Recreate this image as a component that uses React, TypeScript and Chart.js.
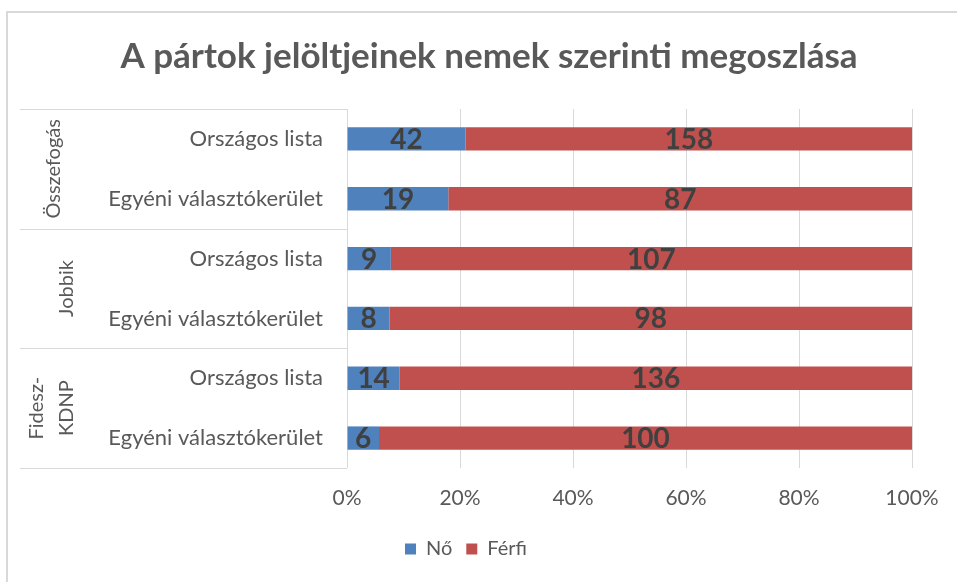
import React, { useEffect, useRef } from "react";
import { Chart, registerables } from "chart.js";

Chart.register(...registerables);

const titleText = "A pártok jelöltjeinek nemek szerinti megoszlása";
const groupLabels = [["Összefogás"], ["Jobbik"], ["Fidesz-", "KDNP"]];
const groupSizes = [2, 2, 2];
const categories = [
  "Országos lista",
  "Egyéni választókerület",
  "Országos lista",
  "Egyéni választókerület",
  "Országos lista",
  "Egyéni választókerület",
];
const seriesNames = ["Nő", "Férfi"];
const noValues = [42, 19, 9, 8, 14, 6];
const ferfiValues = [158, 87, 107, 98, 136, 100];
const xTickValues = [0, 20, 40, 60, 80, 100];

const FONT = "Lato";
const GRAY = "#595959";
const LINE = "#d9d9d9";

export default function App() {
  const ref = useRef<HTMLCanvasElement | null>(null);

  useEffect(() => {
    if (!ref.current) return;
    const totals = noValues.map((v, i) => v + ferfiValues[i]);
    const noPct = noValues.map((v, i) => (v / totals[i]) * 100);
    const ferfiPct = ferfiValues.map((v, i) => (v / totals[i]) * 100);
    const rawValues = [noValues, ferfiValues];

    const framePlugin = {
      id: "frame",
      beforeDraw(chart: any) {
        const ctx = chart.ctx;
        ctx.save();
        ctx.fillStyle = "#ffffff";
        ctx.fillRect(0, 0, chart.width, chart.height);
        ctx.strokeStyle = LINE;
        ctx.lineWidth = 2;
        ctx.strokeRect(7, 12, chart.width + 20, chart.height + 20);
        ctx.restore();
      },
    };

    const legendShift = {
      id: "legendShift",
      afterLayout(chart: any) {
        if (chart.legend) {
          chart.legend.left -= 23;
          chart.legend.right -= 23;
        }
      },
    };

    const groupPlugin = {
      id: "groups",
      afterDraw(chart: any) {
        const ctx = chart.ctx;
        const y = chart.scales.y;
        const area = chart.chartArea;
        const n = categories.length;
        const step = (y.getPixelForValue(n - 1) - y.getPixelForValue(0)) / (n - 1);
        const lineLeft = 20;
        const labelX = [[54], [67], [37, 67]];
        ctx.save();
        ctx.strokeStyle = LINE;
        ctx.lineWidth = 1;
        let idx = 0;
        const bounds: number[] = [y.getPixelForValue(0) - step / 2];
        groupSizes.forEach((s) => {
          idx += s;
          bounds.push(y.getPixelForValue(idx - 1) + step / 2);
        });
        bounds.forEach((b) => {
          ctx.beginPath();
          ctx.moveTo(lineLeft, Math.round(b) + 0.5);
          ctx.lineTo(area.left, Math.round(b) + 0.5);
          ctx.stroke();
        });
        ctx.fillStyle = GRAY;
        ctx.font = `20px ${FONT}`;
        ctx.textAlign = "center";
        ctx.textBaseline = "middle";
        groupLabels.forEach((lines, g) => {
          const cy = (bounds[g] + bounds[g + 1]) / 2;
          lines.forEach((t, li) => {
            ctx.save();
            ctx.translate(labelX[g][li], cy);
            ctx.rotate(-Math.PI / 2);
            ctx.fillText(t, 0, 0);
            ctx.restore();
          });
        });
        ctx.restore();
      },
    };

    const valueLabels = {
      id: "valueLabels",
      afterDatasetsDraw(chart: any) {
        const ctx = chart.ctx;
        ctx.save();
        ctx.fillStyle = "#404040";
        ctx.font = `bold 28px ${FONT}`;
        ctx.textAlign = "center";
        ctx.textBaseline = "middle";
        chart.data.datasets.forEach((ds: any, di: number) => {
          const meta = chart.getDatasetMeta(di);
          meta.data.forEach((el: any, i: number) => {
            const p = el.getProps(["x", "y", "base"], true);
            ctx.fillText(String(rawValues[di][i]), (p.x + p.base) / 2, p.y + 1);
          });
        });
        ctx.restore();
      },
    };

    const chart = new Chart(ref.current, {
      type: "bar",
      data: {
        labels: categories,
        datasets: [
          {
            label: seriesNames[0],
            data: noPct,
            backgroundColor: "#4f81bd",
            borderWidth: 0,
            categoryPercentage: 0.39,
            barPercentage: 1,
          },
          {
            label: seriesNames[1],
            data: ferfiPct,
            backgroundColor: "#c0504d",
            borderWidth: 0,
            categoryPercentage: 0.39,
            barPercentage: 1,
          },
        ],
      },
      options: {
        indexAxis: "y",
        animation: false,
        responsive: false,
        maintainAspectRatio: false,
        layout: { padding: { left: 66, right: 45, top: 0, bottom: 13 } },
        scales: {
          x: {
            stacked: true,
            min: 0,
            max: 100,
            afterBuildTicks(scale: any) {
              scale.ticks = xTickValues.map((v) => ({ value: v }));
            },
            afterFit(scale: any) {
              scale.height = 57;
            },
            grid: { color: LINE, lineWidth: 1, drawTicks: false },
            border: { display: false },
            ticks: {
              padding: 18,
              color: GRAY,
              font: { family: FONT, size: 21 },
              callback: (v: any) => v + "%",
            },
          },
          y: {
            stacked: true,
            afterFit(scale: any) {
              scale.width = 347 - 66;
            },
            grid: { display: false, drawTicks: false },
            border: { display: false },
            ticks: {
              padding: 24,
              color: GRAY,
              font: { family: FONT, size: 22 },
            },
          },
        },
        plugins: {
          title: {
            display: true,
            text: titleText,
            color: GRAY,
            font: { family: FONT, size: 35, weight: "bold", lineHeight: 1.2 },
            padding: { top: 36, bottom: 31 },
          },
          legend: {
            position: "bottom",
            labels: {
              color: GRAY,
              font: { family: FONT, size: 20 },
              boxWidth: 11,
              boxHeight: 11,
              padding: 14,
            },
          },
          tooltip: { enabled: false },
        },
      },
      plugins: [framePlugin, legendShift, groupPlugin, valueLabels],
    } as any);

    return () => chart.destroy();
  }, []);

  return (
    <div style={{ position: "fixed", left: 0, top: 0, width: 957, height: 582, background: "#fff" }}>
      <canvas ref={ref} width={957} height={582} style={{ display: "block", width: 957, height: 582 }} />
    </div>
  );
}
